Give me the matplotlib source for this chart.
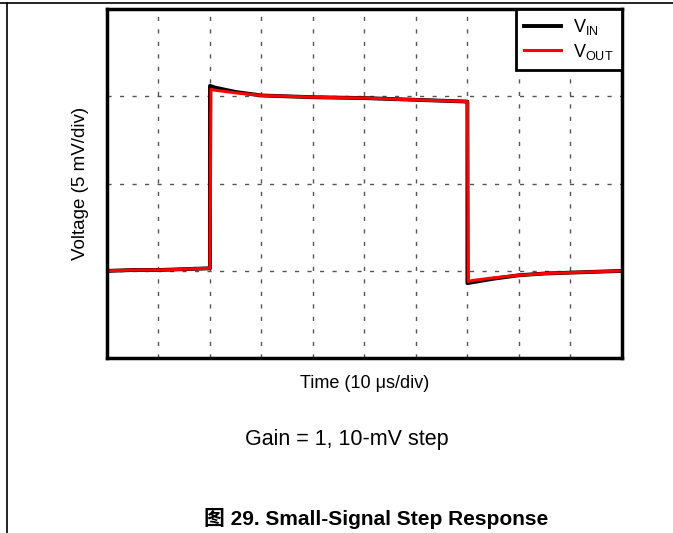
#Small-signal step response, gain = 1
#scope-style plot, units are divisions (10 us/div, 5 mV/div)

import matplotlib.pyplot as plt
import matplotlib.lines as mlines

plt.rcParams['font.family'] = ['Liberation Sans', 'Noto Sans CJK SC', 'DejaVu Sans']
plt.rcParams['mathtext.fontset'] = 'custom'
plt.rcParams['mathtext.rm'] = 'Liberation Sans'

#time in divisions, voltage in divisions
t_in = [0.0, 0.5, 1.0, 1.5, 2.0, 2.0, 2.1, 2.5, 3.0, 4.0, 5.0, 6.0, 7.0, 7.0, 7.1, 7.5, 8.0, 8.5, 9.0, 9.5, 10.0]
v_in = [1.00, 1.01, 1.01, 1.02, 1.03, 3.12, 3.10, 3.05, 3.01, 2.99, 2.98, 2.96, 2.94, 0.86, 0.87, 0.91, 0.95, 0.97, 0.98, 0.99, 1.00]

t_out = [0.0, 0.5, 1.0, 1.5, 2.0, 2.02, 2.1, 2.5, 3.0, 4.0, 5.0, 6.0, 7.0, 7.02, 7.1, 7.5, 8.0, 8.5, 9.0, 9.5, 10.0]
v_out = [1.00, 1.01, 1.01, 1.02, 1.03, 3.08, 3.07, 3.04, 3.01, 2.99, 2.98, 2.96, 2.94, 0.88, 0.89, 0.92, 0.95, 0.97, 0.98, 0.99, 1.00]

fig = plt.figure(figsize=(6.73, 5.33), dpi=100)
ax = fig.add_axes([0.159, 0.328, 0.765, 0.655])

ax.plot(t_in, v_in, color='black', lw=2.8, label='V$_{\\mathrm{IN}}$')
ax.plot(t_out, v_out, color='#ff0000', lw=2.2, label='V$_{\\mathrm{OUT}}$')

ax.set_xlim(0, 10)
ax.set_ylim(0, 4)
ax.set_xticks(range(1, 10))
ax.set_yticks(range(1, 4))
ax.tick_params(length=0, labelbottom=False, labelleft=False)
ax.grid(True, color='#555555', ls=(0, (3, 6)), lw=1)
for s in ax.spines.values():
    s.set_linewidth(2.5)

ax.set_xlabel('Time (10 \u03bcs/div)', fontsize=13, labelpad=12)
ax.set_ylabel('Voltage (5 mV/div)', fontsize=13.5, labelpad=13)

leg = ax.legend(loc='upper right', borderaxespad=0, fancybox=False, fontsize=13,
                handlelength=2.0, handletextpad=0.7, borderpad=0.45, labelspacing=0.25)
leg.get_frame().set_edgecolor('black')
leg.get_frame().set_linewidth(2)
leg.get_frame().set_alpha(1)

fig.text(0.516, 0.175, 'Gain = 1, 10-mV step', fontsize=15.5, ha='center', va='center')
fig.text(0.559, 0.028, '图 29. Small-Signal Step Response', fontsize=15, fontweight='bold',
         ha='center', va='center', family=['Liberation Sans', 'Noto Sans CJK SC'])

#page border lines
fig.add_artist(mlines.Line2D([0, 1], [0.995, 0.995], color='black', lw=1.2))
fig.add_artist(mlines.Line2D([0.010, 0.010], [0, 0.995], color='black', lw=1.2))

fig.savefig('out.png', dpi=100)
